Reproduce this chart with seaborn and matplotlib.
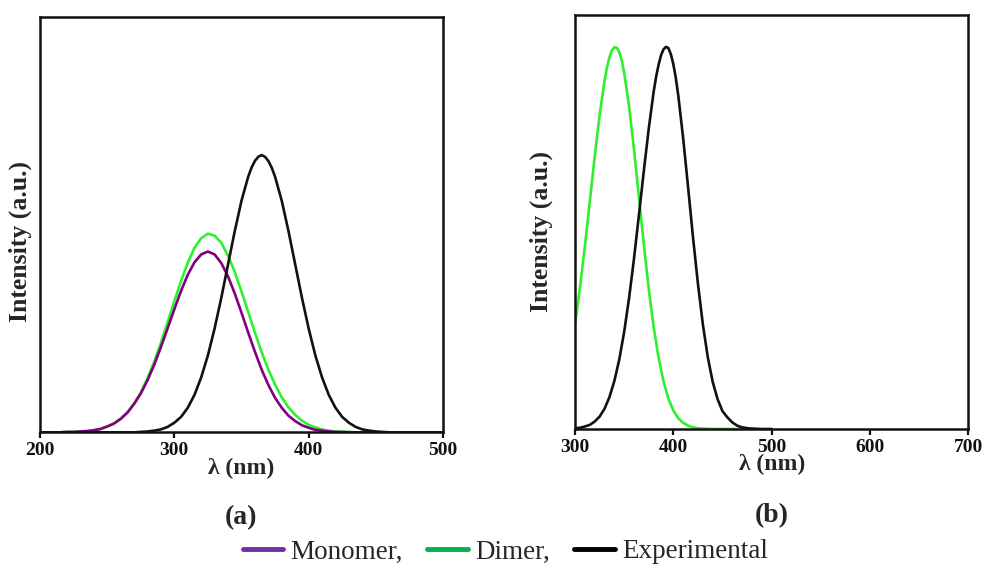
"""
Simulated vs. experimental emission spectra, panels (a) and (b).
"""

import matplotlib
matplotlib.use("Agg")

import matplotlib.pyplot as plt
import pandas as pd
import seaborn as sns
from matplotlib.lines import Line2D

# ---------------------------------------------------------------- data (a)
wl_a = list(range(200, 505, 5))

monomer_a = [
    0, 0, 0, 0, 0.001, 0.001, 0.002, 0.003, 0.005, 0.008,       # 200-245
    0.014, 0.021, 0.032, 0.047, 0.068, 0.093, 0.125, 0.162,     # 250-285
    0.205, 0.250, 0.296, 0.340, 0.379, 0.409, 0.428, 0.435,     # 290-325
    0.428, 0.407, 0.375, 0.334, 0.288, 0.240, 0.194, 0.151,     # 330-365
    0.114, 0.083, 0.059, 0.040, 0.027, 0.017, 0.011, 0.006,     # 370-405
    0.004, 0.002, 0.001, 0.001,                                 # 410-425
    0, 0, 0, 0, 0, 0, 0, 0, 0, 0, 0, 0, 0, 0, 0,                # 430-500
]

dimer_a = [
    0, 0, 0, 0, 0.001, 0.001, 0.002, 0.003, 0.005, 0.008,       # 200-245
    0.014, 0.021, 0.033, 0.048, 0.069, 0.096, 0.130, 0.170,     # 250-285
    0.215, 0.265, 0.315, 0.364, 0.408, 0.444, 0.467, 0.478,     # 290-325
    0.473, 0.456, 0.425, 0.386, 0.339, 0.290, 0.240, 0.193,     # 330-365
    0.151, 0.115, 0.084, 0.060, 0.042, 0.028, 0.018, 0.012,     # 370-405
    0.007, 0.004, 0.002, 0.001, 0.001,                          # 410-430
    0, 0, 0, 0, 0, 0, 0, 0, 0, 0, 0, 0, 0, 0,                   # 435-500
]

wl_a_exp = [
    200, 210, 220, 230, 240, 250, 260, 270, 275, 280, 285, 290, 295,
    300, 305, 310, 315, 320, 325, 330, 335, 340, 345, 350, 355,
    357.5, 360, 362.5, 365, 367.5, 370, 372.5,
    375, 380, 385, 390, 395, 400, 405, 410, 415, 420, 425, 430,
    435, 440, 445, 450, 455, 460, 470, 480, 490, 500,
]
experimental_a = [
    0, 0, 0, 0, 0, 0, 0, 0, 0.001, 0.002, 0.004, 0.007, 0.013,
    0.023, 0.037, 0.059, 0.090, 0.132, 0.185, 0.250, 0.324, 0.404, 0.484, 0.557, 0.615,
    0.637, 0.653, 0.663, 0.667, 0.663, 0.653, 0.637,
    0.615, 0.557, 0.484, 0.404, 0.324, 0.250, 0.185, 0.132, 0.090, 0.059, 0.037, 0.023,
    0.013, 0.007, 0.004, 0.002, 0.001, 0, 0, 0, 0, 0,
]

# ---------------------------------------------------------------- data (b)
wl_b_dimer = [
    300, 305, 310, 315, 320, 325, 330, 332.5, 335, 337.5, 340, 342.5,
    345, 347.5, 350, 355, 360, 365, 370, 375, 380, 385, 390, 395,
    400, 405, 410, 415, 420, 425, 430, 440, 450, 460, 470, 480,
]
dimer_b = [
    0.253, 0.341, 0.441, 0.549, 0.658, 0.758, 0.841, 0.873, 0.898, 0.914, 0.922, 0.921,
    0.910, 0.890, 0.860, 0.779, 0.675, 0.560, 0.445, 0.338, 0.246, 0.172, 0.115, 0.073,
    0.045, 0.026, 0.015, 0.008, 0.004, 0.002, 0.001, 0, 0, 0, 0, 0,
]

wl_b_exp = [
    300, 305, 310, 315, 320, 325, 330, 335, 340, 345, 350, 355, 360, 365,
    370, 375, 380, 382.5, 385, 387.5, 390, 392.5, 395, 397.5, 400, 402.5,
    405, 410, 415, 420, 425, 430, 435, 440, 445, 450, 455, 460, 465, 470,
    475, 480, 490, 500,
]
experimental_b = [
    0.002, 0.003, 0.006, 0.010, 0.018, 0.030, 0.049, 0.077, 0.116, 0.168, 0.235, 0.317, 0.412, 0.517,
    0.624, 0.726, 0.815, 0.851, 0.880, 0.903, 0.917, 0.923, 0.920, 0.905, 0.881, 0.848,
    0.806, 0.702, 0.584, 0.463, 0.351, 0.253, 0.174, 0.114, 0.072, 0.043, 0.028, 0.016, 0.008, 0.004,
    0.002, 0.001, 0, 0,
]

legend_labels = ["Monomer,", "Dimer,", "Experimental"]

# ---------------------------------------------------------------- style
sns.set_theme(style="white")
plt.rcParams["font.family"] = ["Liberation Serif", "DejaVu Serif"]
plt.rcParams["axes.linewidth"] = 1.8
plt.rcParams["xtick.major.width"] = 1.6
plt.rcParams["xtick.major.size"] = 4
plt.rcParams["xtick.direction"] = "out"

PURPLE = "#800080"
GREEN = "#2ef02e"
BLACK = "#111111"
LINE_KW = dict(lw=1.9, solid_joinstyle="round")

fig = plt.figure(figsize=(9.85, 5.72), dpi=100)
ax_a = fig.add_axes([0.0406, 0.2442, 0.4091, 0.7266])
ax_b = fig.add_axes([0.5838, 0.2500, 0.3992, 0.7238])

df_a = pd.DataFrame({"wl": wl_a, "monomer": monomer_a, "dimer": dimer_a})
df_ae = pd.DataFrame({"wl": wl_a_exp, "exp": experimental_a})
sns.lineplot(data=df_a, x="wl", y="dimer", color=GREEN, ax=ax_a, **LINE_KW)
sns.lineplot(data=df_a, x="wl", y="monomer", color=PURPLE, ax=ax_a, **LINE_KW)
sns.lineplot(data=df_ae, x="wl", y="exp", color=BLACK, ax=ax_a, **LINE_KW)

df_bd = pd.DataFrame({"wl": wl_b_dimer, "dimer": dimer_b})
df_be = pd.DataFrame({"wl": wl_b_exp, "exp": experimental_b})
sns.lineplot(data=df_bd, x="wl", y="dimer", color=GREEN, ax=ax_b, **LINE_KW)
sns.lineplot(data=df_be, x="wl", y="exp", color=BLACK, ax=ax_b, **LINE_KW)

# axes, x range, ticks, panel tag, ylabel position, tag y position
panels = [(ax_a, (200, 500), [200, 300, 400, 500], "(a)", (-0.020, 0.46), -0.206),
          (ax_b, (300, 700), [300, 400, 500, 600, 700], "(b)", (-0.056, 0.478), -0.208)]
for ax, xlim, xticks, tag, ylab_pos, tag_y in panels:
    ax.set_xlim(*xlim)
    ax.set_ylim(0, 1)
    ax.set_xticks(xticks)
    ax.set_yticks([])
    ax.tick_params(axis="x", bottom=True, labelsize=14, pad=3, colors="#111111")
    for lbl in ax.get_xticklabels():
        lbl.set_fontweight("bold")
    for sp in ax.spines.values():
        sp.set_color("#111111")
    ax.set_xlabel("λ (nm)", fontsize=17, fontweight="bold", labelpad=-1)
    ax.set_ylabel("Intensity (a.u.)", fontsize=18.5, fontweight="bold")
    ax.yaxis.set_label_coords(*ylab_pos)
    ax.text(0.5, tag_y, tag, transform=ax.transAxes, ha="center", va="center",
            fontsize=20, fontweight="bold")

handles = [Line2D([], [], color="#7030a0", lw=3.5),
           Line2D([], [], color="#00b050", lw=3.5),
           Line2D([], [], color="black", lw=3.5)]
fig.legend(handles, legend_labels, loc="center", bbox_to_anchor=(0.513, 0.035),
           ncol=3, frameon=False, fontsize=19.5, handlelength=1.5,
           handletextpad=0.26, columnspacing=0.9, borderpad=0)

fig.savefig("out.png", dpi=100)
